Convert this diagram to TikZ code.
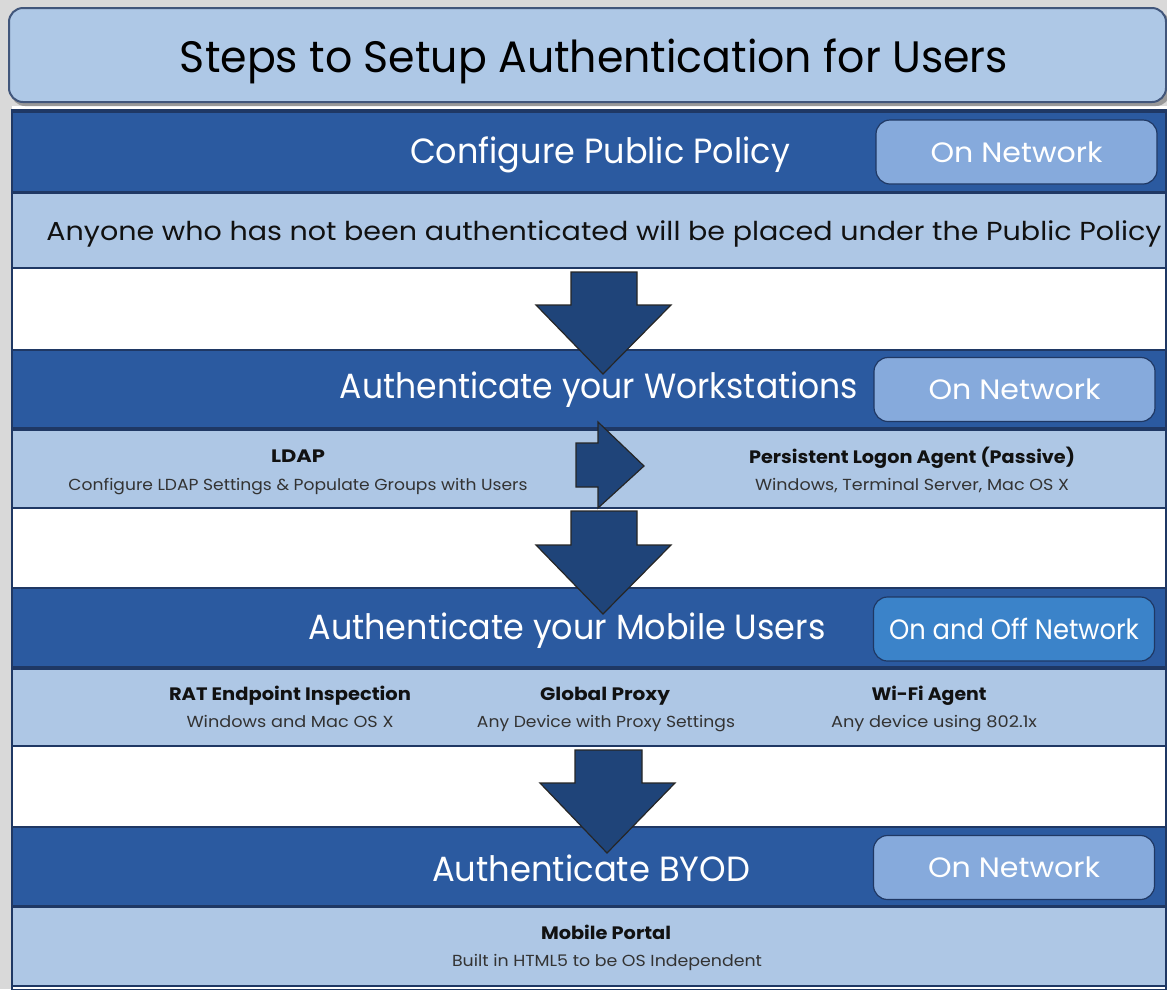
\documentclass[tikz,border=0pt]{standalone}
\usepackage{fontspec}
\setmainfont{Poppins}
\usepackage{graphicx}
\definecolor{hdrc}{HTML}{2B5AA0}
\definecolor{lightband}{HTML}{AEC7E5}
\definecolor{pillc}{HTML}{86AADC}
\definecolor{pillbright}{HTML}{3B83C9}
\definecolor{edgec}{HTML}{1F3864}
\definecolor{arrowc}{HTML}{1F4479}
\definecolor{titlefill}{HTML}{AEC8E6}
\definecolor{bggray}{HTML}{D9D9D9}
\definecolor{textdark}{HTML}{111111}
\newcommand{\fitw}[2]{\resizebox{#1pt}{\height}{#2}}
\tikzset{
  hdrband/.style={fill=hdrc, draw=edgec, line width=1.5pt},
  lband/.style={fill=lightband, draw=edgec, line width=1.5pt},
  blockarrow/.style={fill=arrowc, draw=black!85, line width=1.2pt, line join=miter},
  pillbox/.style={fill=pillc, draw=edgec, line width=1.2pt, rounded corners=14pt,
    minimum width=281pt, minimum height=64pt, inner sep=0pt, text=white,
    font=\fontsize{28}{34}\selectfont},
  ttl/.style={font=\fontsize{44}{50}\selectfont, text=black, inner sep=0pt, anchor=base},
  hdr/.style={font=\fontsize{35}{42}\selectfont, text=white, inner sep=0pt, anchor=base},
  big/.style={font=\fontsize{26}{32}\selectfont, text=textdark, inner sep=0pt, anchor=base},
  lbl/.style={font=\bfseries\fontsize{18}{22}\selectfont, text=textdark, inner sep=0pt, anchor=base},
  sub/.style={font=\fontsize{16}{20}\selectfont, text=black!80, inner sep=0pt, anchor=base},
}
\begin{document}
\begin{tikzpicture}[x=1pt, y=-1pt]
\useasboundingbox (0,0) rectangle (1167,989);
% background
\fill[bggray] (0,0) rectangle (1167,989);
\fill[white] (12,106) rectangle (1167,989);
% title
\fill[black!40, rounded corners=14pt] (11,11) rectangle (1170,106);
\draw[fill=titlefill, draw=edgec!85!white, line width=2pt, rounded corners=14pt] (9,8) rectangle (1166,102);
\node[ttl] (title) at (594,72) {\fitw{828}{Steps to Setup Authentication for Users}};
% frame
\draw[edgec, line width=2pt] (12,110) rectangle (1166,990);
% band 1
\draw[hdrband] (12,112) rectangle (1166,192);
\draw[lband] (12,193) rectangle (1166,268);
% band 2
\draw[hdrband] (12,350) rectangle (1166,428);
\draw[lband] (12,430) rectangle (1166,508);
% band 3
\draw[hdrband] (12,588) rectangle (1166,667);
\draw[lband] (12,669) rectangle (1166,746);
% band 4
\draw[hdrband] (12,827) rectangle (1166,906);
\draw[lband] (12,907) rectangle (1166,986);

% section 1 texts
\node[hdr] (h1) at (600,163) {\fitw{380}{Configure Public Policy}};
\node[pillbox] (p1) at (1016.5,152) {\fitw{172}{On Network}};
\node[big] (d1) at (604,240) {\fitw{1115}{Anyone who has not been authenticated will be placed under the Public Policy}};

% arrow 1
\draw[blockarrow] (571,272) -- (637,272) -- (637,305) -- (671,305) -- (603,374) -- (536,305) -- (571,305) -- cycle;

% section 2
\node[hdr] (h2) at (599,398) {\fitw{518}{Authenticate your Workstations}};
\node[pillbox] (p2) at (1014.5,389.5) {\fitw{172}{On Network}};
\node[lbl] (ldap) at (298,462) {\fitw{54}{LDAP}};
\node[sub] (ldaps) at (298,490) {\fitw{459}{Configure LDAP Settings \& Populate Groups with Users}};
\node[lbl] (pla) at (912,463) {\fitw{326}{Persistent Logon Agent (Passive)}};
\node[sub] (plas) at (912,490) {\fitw{314}{Windows, Terminal Server, Mac OS X}};
% right arrow
\draw[blockarrow] (576,443) -- (598,443) -- (598,422) -- (644,466) -- (598,508) -- (598,487) -- (576,487) -- cycle;

% arrow 2
\draw[blockarrow] (571,511) -- (637,511) -- (637,545) -- (671,545) -- (603,614) -- (536,545) -- (571,545) -- cycle;

% section 3
\node[hdr] (h3) at (567,639) {\fitw{517}{Authenticate your Mobile Users}};
\node[pillbox, fill=pillbright] (p3) at (1014,629) {\fitw{250}{On and Off Network}};
\node[lbl] (rat) at (290,700) {\fitw{242}{RAT Endpoint Inspection}};
\node[sub] (rats) at (290,727) {\fitw{207}{Windows and Mac OS X}};
\node[lbl] (gp) at (605,700) {\fitw{130}{Global Proxy}};
\node[sub] (gps) at (606,727) {\fitw{258}{Any Device with Proxy Settings}};
\node[lbl] (wifi) at (929,700) {\fitw{115}{Wi-Fi Agent}};
\node[sub] (wifis) at (934,727) {\fitw{206}{Any device using 802.1x}};

% arrow 3
\draw[blockarrow] (575,750) -- (642,750) -- (642,783) -- (675,783) -- (607,853) -- (540,783) -- (575,783) -- cycle;

% section 4
\node[hdr] (h4) at (591,881) {\fitw{318}{Authenticate BYOD}};
\node[pillbox] (p4) at (1014,867.5) {\fitw{172}{On Network}};
\node[lbl] (mp) at (606,939) {\fitw{130}{Mobile Portal}};
\node[sub] (mps) at (607,966) {\fitw{310}{Built in HTML5 to be OS Independent}};
\end{tikzpicture}
\end{document}
